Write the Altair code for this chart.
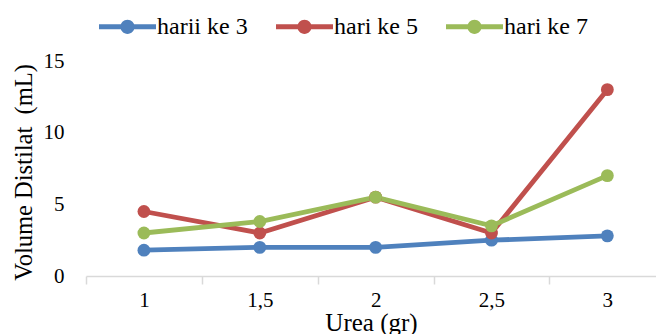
import altair as alt
import pandas as pd

# Urea dose (gr) and distillate volume (mL) per observation day
urea = [1, 1.5, 2, 2.5, 3]
harii_ke_3 = [1.8, 2.0, 2.0, 2.5, 2.8]
hari_ke_5 = [4.5, 3.0, 5.5, 3.0, 13.0]
hari_ke_7 = [3.0, 3.8, 5.5, 3.5, 7.0]

series_names = ["harii ke 3", "hari ke 5", "hari ke 7"]
series_colors = ["#4F81BD", "#C0504D", "#9BBB59"]

rows = []
for name, vals in zip(series_names, [harii_ke_3, hari_ke_5, hari_ke_7]):
    for u, v in zip(urea, vals):
        rows.append({"urea": u, "volume": v, "hari": name})
df = pd.DataFrame(rows)

FONT = "Liberation Serif"

# legend glyph: a thick line with a dot in the middle
legend_glyph = (
    "M-1,-0.085 H1 V0.085 H-1 Z "
    "M0.25,0 A0.25,0.25 0 1,1 -0.25,0 A0.25,0.25 0 1,1 0.25,0 Z"
)

x_scale = alt.Scale(domain=[0.75, 3.21], nice=False, zero=False)
y_scale = alt.Scale(domain=[0, 15], nice=False)
color_scale = alt.Scale(domain=series_names, range=series_colors)

x_axis = alt.Axis(
    values=[0.75, 1, 1.25, 1.5, 1.75, 2, 2.25, 2.5, 2.75, 3],
    labelExpr="datum.value % 0.5 == 0 ? replace(toString(datum.value), '.', ',') : ''",
    tickOpacity={"condition": {"test": "datum.value % 0.5 != 0", "value": 1}, "value": 0},
    tickSize=8,
    tickColor="#D9D9D9",
    tickWidth=1.5,
    domainColor="#D9D9D9",
    domainWidth=1.5,
    grid=False,
    labelOverlap=False,
    labelFlush=False,
    labelBound=False,
    labelFont=FONT,
    labelFontSize=21,
    labelColor="black",
    labelPadding=5,
    title="Urea (gr)",
    titleFont=FONT,
    titleFontSize=25,
    titleFontWeight="normal",
    titleColor="black",
    titleBaseline="alphabetic",
    titleY=54,
)

y_axis = alt.Axis(
    values=[0, 5, 10, 15],
    domain=False,
    ticks=False,
    grid=False,
    labelFont=FONT,
    labelFontSize=21,
    labelColor="black",
    labelPadding=22,
    title="Volume Distilat\u00a0 (mL)",
    titleFont=FONT,
    titleFontSize=24.5,
    titleFontWeight="normal",
    titleColor="black",
    titleAngle=270,
    titleAlign="center",
    titleBaseline="middle",
    titleX=-62,
    titleY=111,
)

base = alt.Chart(df)

lines = base.mark_line(strokeWidth=4.8).encode(
    x=alt.X("urea:Q", scale=x_scale, axis=x_axis),
    y=alt.Y("volume:Q", scale=y_scale, axis=y_axis),
    color=alt.Color("hari:N", scale=color_scale, legend=None),
    detail="hari:N",
)

points = base.mark_circle(size=165, opacity=1).encode(
    x=alt.X("urea:Q", scale=x_scale, axis=x_axis),
    y=alt.Y("volume:Q", scale=y_scale, axis=y_axis),
    color=alt.Color(
        "hari:N",
        scale=color_scale,
        legend=alt.Legend(
            title=None,
            orient="none",
            direction="horizontal",
            legendX=13,
            legendY=-63,
            symbolType=legend_glyph,
            symbolSize=3249,
            symbolStrokeWidth=0,
            symbolOpacity=1,
            labelFont=FONT,
            labelFontSize=24,
            labelColor="black",
            labelOffset=1,
            columnPadding=28,
            padding=0,
        ),
    ),
)

chart = (
    alt.layer(lines, points)
    .resolve_legend(color="independent")
    .properties(
        width=570,
        height=215,
        autosize=alt.AutoSizeParams(type="none"),
        padding={"left": 86, "top": 61, "right": 0, "bottom": 58},
    )
    .configure(
        background="white",
        font=FONT,
        style={"guide-label": {"font": FONT}, "guide-title": {"font": FONT}},
    )
    .configure_axis(labelFont=FONT, titleFont=FONT)
    .configure_legend(labelFont=FONT)
    .configure_view(stroke=None)
)

chart.save("out.html", embed_options={"renderer": "svg", "actions": False})
